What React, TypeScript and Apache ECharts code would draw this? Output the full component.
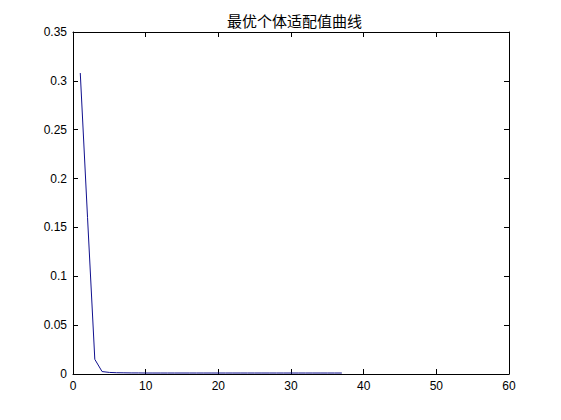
import { useEffect, useRef } from 'react';
import * as echarts from 'echarts';

const TITLE = '最优个体适配值曲线';
const generations = [
  1, 2, 3, 4, 5, 6, 7, 8, 9, 10, 11, 12, 13, 14, 15, 16, 17, 18, 19,
  20, 21, 22, 23, 24, 25, 26, 27, 28, 29, 30, 31, 32, 33, 34, 35, 36, 37,
];
const bestFitness = [
  0.308, 0.16, 0.015, 0.0025, 0.0016, 0.0013, 0.0012, 0.0011, 0.0011, 0.001,
  0.001, 0.001, 0.001, 0.001, 0.001, 0.001, 0.001, 0.001, 0.001, 0.001,
  0.001, 0.001, 0.001, 0.001, 0.001, 0.001, 0.001, 0.001, 0.001, 0.001,
  0.001, 0.001, 0.001, 0.001, 0.001, 0.001, 0.001,
];

const LINE_COLOR = '#10108e';
const AXIS_COLOR = '#000';
const FONT = '"Liberation Sans", Arial, sans-serif';

export default function App() {
  const ref = useRef<HTMLDivElement>(null);

  useEffect(() => {
    if (!ref.current) return;
    const chart = echarts.init(ref.current, undefined, { renderer: 'svg' });

    const axisCommon = {
      axisLine: { show: true, onZero: false, lineStyle: { color: AXIS_COLOR, width: 1 } },
      axisTick: { show: true, inside: true, length: 5, lineStyle: { color: AXIS_COLOR } },
      splitLine: { show: false },
    };

    chart.setOption({
      animation: false,
      backgroundColor: '#fff',
      title: {
        text: TITLE,
        left: 222,
        top: 8,
        textStyle: {
          fontFamily: '"Noto Sans CJK SC", sans-serif',
          fontSize: 15,
          fontWeight: 'normal',
          color: '#000',
        },
      },
      grid: { left: 73, right: 52, top: 32, bottom: 46 },
      xAxis: [
        {
          type: 'value', min: 0, max: 60, interval: 10, position: 'bottom',
          ...axisCommon,
          axisLabel: { color: '#000', fontSize: 12, fontFamily: FONT, margin: 6 },
        },
        {
          type: 'value', min: 0, max: 60, interval: 10, position: 'top',
          ...axisCommon,
          axisLabel: { show: false },
        },
      ],
      yAxis: [
        {
          type: 'value', min: 0, max: 0.35, interval: 0.05, position: 'left',
          ...axisCommon,
          axisLabel: { color: '#000', fontSize: 12, fontFamily: FONT, margin: 6 },
        },
        {
          type: 'value', min: 0, max: 0.35, interval: 0.05, position: 'right',
          ...axisCommon,
          axisLabel: { show: false },
        },
      ],
      series: [
        {
          type: 'line',
          data: generations.map((g, i) => [g, bestFitness[i]]),
          xAxisIndex: 0,
          yAxisIndex: 0,
          symbol: 'none',
          lineStyle: { color: LINE_COLOR, width: 1 },
        },
      ],
    });

    return () => chart.dispose();
  }, []);

  return (
    <div
      ref={ref}
      style={{ position: 'fixed', left: 0, top: 0, width: 561, height: 420 }}
    />
  );
}
